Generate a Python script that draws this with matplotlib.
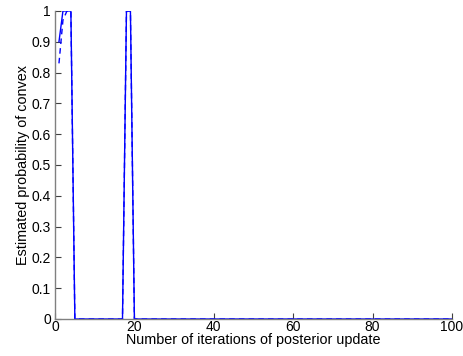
import numpy as np
import matplotlib
matplotlib.use("Agg")
import matplotlib.pyplot as plt

iterations = list(range(1, 101))
prob_solid = [0.90, 1.0, 1.0, 1.0, 0.0] + [0.0] * 11 + [0.0, 1.0, 1.0, 0.0] + [0.0] * 80
prob_dashed = [0.83, 0.97, 1.0, 1.0, 0.0] + [0.0] * 11 + [0.0, 1.0, 1.0, 0.0] + [0.0] * 80

xticks = [0, 20, 40, 60, 80, 100]
yticks = [0, 0.1, 0.2, 0.3, 0.4, 0.5, 0.6, 0.7, 0.8, 0.9, 1]
yticklabels = ["0", "0.1", "0.2", "0.3", "0.4", "0.5", "0.6", "0.7", "0.8", "0.9", "1"]

plt.rcParams['font.family'] = ['Liberation Sans', 'DejaVu Sans']
fig = plt.figure(figsize=(4.64, 3.56), dpi=100)
ax = fig.add_axes([55/464, 1-319/356, (452-55)/464, (319-11)/356])

ax.plot(iterations, prob_dashed, color='#0000ff', lw=1.0, ls=(0, (4, 3)))
ax.plot(iterations, prob_solid, color='#0000ff', lw=1.0)

ax.set_xlim(0, 100)
ax.set_ylim(0, 1)
ax.set_xticks(xticks)
ax.set_yticks(yticks)
ax.set_yticklabels(yticklabels)
for s in ['top', 'right']:
    ax.spines[s].set_visible(False)
for s in ['left', 'bottom']:
    ax.spines[s].set_color('#808080')
    ax.spines[s].set_linewidth(1.0)
ax.tick_params(direction='in', length=4, width=0.8, colors='#404040', labelcolor='black', labelsize=10)
ax.tick_params(axis='x', pad=1)
ax.tick_params(axis='y', pad=3)
ax.set_xlabel('Number of iterations of posterior update', fontsize=10.4, labelpad=-1)
ax.set_ylabel('Estimated probability of convex', fontsize=10.4, labelpad=1)

fig.savefig('out.png', dpi=100)
